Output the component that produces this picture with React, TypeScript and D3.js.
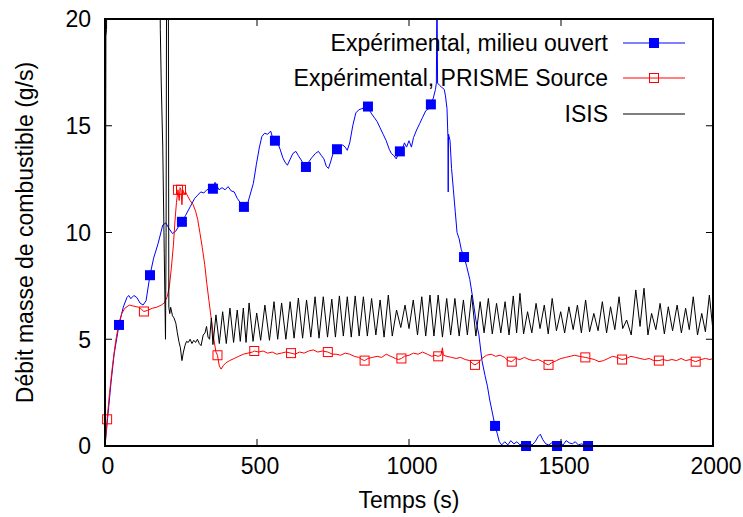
import React, { useEffect, useRef } from 'react';
import * as d3 from 'd3';

// time (s), flow (g/s)
const blueLine: [number, number][] = [
  [0, 0], [10, 1.5], [20, 3.0], [30, 4.3], [46, 5.67], [60, 6.5], [72, 6.95], [78, 7.05], [85, 6.9],
  [95, 7.05], [105, 6.95], [115, 6.7], [125, 6.6], [135, 6.8], [148, 8.0], [160, 8.8], [175, 9.5],
  [190, 10.35], [200, 10.45], [210, 10.2], [222, 9.95], [232, 10.05], [245, 10.35], [253, 10.5],
  [265, 10.8], [280, 11.2], [295, 11.6], [305, 11.75], [315, 11.9], [325, 11.85], [335, 12.0],
  [345, 12.05], [355, 12.1], [362, 12.35], [368, 12.2], [375, 12.0], [385, 12.1], [395, 12.0],
  [405, 12.15], [415, 11.95], [425, 11.9], [435, 11.6], [445, 11.4], [457, 11.2], [468, 11.3],
  [478, 11.8], [488, 12.3], [498, 13.2], [508, 14.0], [516, 14.5], [525, 14.65], [535, 14.6],
  [545, 14.75], [552, 14.4], [559, 14.3], [568, 14.2], [576, 13.9], [585, 13.5], [592, 13.3],
  [600, 13.15], [608, 13.4], [618, 13.7], [628, 13.8], [636, 13.6], [645, 13.4], [653, 13.2],
  [661, 13.07], [670, 13.3], [680, 13.5], [692, 13.7], [702, 13.8], [712, 13.6], [720, 13.45],
  [728, 13.1], [735, 13.0], [742, 13.3], [750, 13.7], [763, 13.9], [772, 14.0], [782, 14.1],
  [790, 14.0], [797, 13.85], [805, 14.2], [815, 15.0], [825, 15.6], [835, 15.75], [845, 15.8],
  [855, 15.85], [865, 15.9], [875, 15.6], [885, 15.4], [895, 15.2], [905, 14.9], [915, 14.6],
  [925, 14.3], [935, 13.9], [942, 13.7], [950, 13.6], [958, 13.45], [964, 13.65], [970, 13.8],
  [978, 13.9], [985, 14.2], [992, 14.0], [1000, 14.3], [1008, 14.0], [1015, 14.45], [1025, 14.8],
  [1035, 15.1], [1045, 15.4], [1055, 15.7], [1065, 15.8], [1072, 16.0], [1080, 16.3], [1087, 16.7],
  [1090, 17.0], [1092, 21.5], [1094, 17.0], [1100, 16.9], [1108, 16.8], [1116, 16.7], [1120, 16.4],
  [1125, 15.8], [1128, 14.5], [1129, 11.9], [1130, 14.6], [1135, 14.3], [1140, 13.0], [1146, 12.0],
  [1152, 11.0], [1158, 10.0], [1165, 9.7], [1172, 9.2], [1181, 8.85], [1190, 8.4], [1200, 7.8],
  [1210, 6.9], [1220, 5.9], [1230, 5.2], [1240, 4.0], [1250, 3.3], [1258, 2.8], [1265, 2.2],
  [1275, 1.5], [1283, 0.94], [1290, 0.6], [1297, 0.2], [1305, 0.05], [1315, 0.2], [1325, 0.05],
  [1335, 0.25], [1345, 0.1], [1355, 0.2], [1365, 0.05], [1375, 0.15], [1385, 0.0], [1395, 0.1],
  [1405, 0.05], [1415, 0.2], [1425, 0.45], [1432, 0.55], [1440, 0.3], [1450, 0.1], [1460, 0.05],
  [1470, 0.15], [1480, 0.05], [1487, 0.0], [1497, 0.1], [1507, 0.05], [1517, 0.25], [1527, 0.15],
  [1537, 0.1], [1547, 0.2], [1557, 0.05], [1567, 0.1], [1580, 0.05], [1589, 0.0], [1600, 0.05],
];
const blueMarks: [number, number][] = [
  [46, 5.67], [148, 8.0], [253, 10.5], [355, 12.05], [457, 11.2], [559, 14.3], [661, 13.07],
  [763, 13.9], [865, 15.9], [970, 13.8], [1072, 16.0], [1181, 8.85], [1283, 0.94], [1385, 0.0],
  [1487, 0.0], [1589, 0.0],
];

const redLine: [number, number][] = [
  [0, 0], [7, 1.25], [15, 2.5], [25, 3.8], [35, 4.9], [45, 5.7], [55, 6.2], [65, 6.45], [80, 6.6],
  [95, 6.55], [110, 6.5], [120, 6.4], [128, 6.3], [140, 6.35], [155, 6.45], [170, 6.5], [185, 6.6],
  [195, 6.7], [205, 7.0], [212, 7.5], [218, 8.3], [225, 9.4], [230, 10.5], [235, 11.4], [240, 12.0],
  [244, 11.5], [247, 12.1], [250, 12.0], [253, 11.3], [256, 12.0], [260, 11.8], [265, 11.9],
  [272, 11.7], [280, 11.5], [290, 11.3], [298, 11.0], [305, 10.6], [312, 10.0], [320, 9.3],
  [328, 8.5], [335, 7.6], [342, 6.8], [350, 5.9], [358, 5.0], [365, 4.4], [370, 4.25], [376, 3.75],
  [382, 3.6], [388, 3.75], [398, 3.9], [410, 4.0], [425, 4.1], [440, 4.2], [455, 4.3], [470, 4.35],
  [485, 4.4], [491, 4.45], [505, 4.4], [520, 4.45], [535, 4.35], [550, 4.4], [565, 4.3], [580, 4.35],
  [595, 4.4], [612, 4.35], [625, 4.3], [640, 4.4], [655, 4.35], [670, 4.45], [685, 4.5], [700, 4.4],
  [715, 4.45], [733, 4.4], [748, 4.3], [760, 4.3], [775, 4.25], [790, 4.35], [805, 4.3], [820, 4.2],
  [835, 4.15], [845, 4.05], [854, 4.0], [865, 4.1], [880, 4.15], [895, 4.2], [910, 4.15], [925, 4.3],
  [940, 4.2], [955, 4.1], [965, 4.05], [975, 4.1], [985, 4.2], [1000, 4.25], [1015, 4.35],
  [1030, 4.3], [1045, 4.4], [1060, 4.3], [1075, 4.2], [1085, 4.25], [1096, 4.2], [1105, 4.25],
  [1110, 4.6], [1113, 4.25], [1125, 4.2], [1140, 4.15], [1155, 4.1], [1170, 4.15], [1185, 4.05],
  [1200, 4.0], [1210, 3.85], [1217, 3.8], [1228, 3.9], [1240, 4.1], [1255, 4.25], [1270, 4.3],
  [1285, 4.2], [1300, 4.25], [1315, 4.15], [1325, 4.0], [1338, 3.95], [1350, 4.1], [1365, 4.05],
  [1380, 4.15], [1395, 4.05], [1410, 4.0], [1425, 4.05], [1440, 3.95], [1450, 3.85], [1459, 3.8],
  [1470, 3.9], [1485, 4.0], [1500, 4.1], [1515, 4.15], [1530, 4.2], [1545, 4.25], [1560, 4.2],
  [1580, 4.15], [1595, 4.1], [1610, 4.05], [1625, 3.95], [1640, 4.0], [1655, 4.1], [1670, 4.2],
  [1685, 4.15], [1701, 4.05], [1715, 4.1], [1730, 4.2], [1745, 4.15], [1760, 4.1], [1775, 4.05],
  [1790, 4.1], [1805, 4.0], [1822, 4.0], [1835, 4.05], [1850, 4.0], [1865, 4.05], [1880, 4.0],
  [1895, 4.1], [1910, 4.0], [1925, 4.05], [1943, 3.95], [1960, 4.05], [1975, 4.1], [1990, 4.05],
  [2000, 4.1],
];
const redMarks: [number, number][] = [
  [7, 1.25], [128, 6.3], [240, 12.0], [250, 12.0], [370, 4.25], [491, 4.45], [612, 4.35],
  [733, 4.4], [854, 4.0], [975, 4.1], [1096, 4.2], [1217, 3.8], [1338, 3.95], [1459, 3.8],
  [1580, 4.15], [1701, 4.05], [1822, 4.0], [1943, 3.95],
];

const isisLine: [number, number][] = [
  [0, 0], [2, 12], [3, 19.2], [5, 19.5], [8, 25], [178, 25], [182, 19.5], [185, 17], [190, 14],
  [195, 9], [199, 5.0], [201, 10], [203, 25], [208, 25], [210, 6.5], [213, 6.2], [216, 6.5],
  [222, 6.1], [227, 6.0], [233, 5.75], [238, 5.3], [243, 4.9], [248, 4.6], [253, 4.0], [258, 4.4],
  [263, 4.7], [268, 4.9], [274, 4.85], [280, 5.0], [286, 4.8], [292, 4.95], [298, 4.85], [304, 5.0],
  [310, 4.8], [316, 4.7], [323, 5.2], [329, 5.3], [334, 5.6], [339, 5.1], [344, 5.0], [350, 6.0],
  [355, 4.75],
  [365, 6.14], [376, 4.8], [387, 6.29], [399, 4.8], [411, 6.46], [423, 4.85], [435, 6.37], [445, 4.9],
  [455, 6.46], [464, 4.85], [474, 6.7], [487, 4.9], [499, 6.23], [512, 4.95], [526, 6.6], [541, 4.95],
  [556, 6.76], [568, 5.0], [581, 6.7], [595, 5.0], [609, 6.76], [622, 5.05], [636, 6.93], [650, 5.05],
  [663, 6.84], [677, 5.1], [691, 6.99], [704, 5.05], [718, 6.99], [732, 5.1], [746, 6.88], [758, 5.1],
  [771, 7.03], [784, 5.15], [797, 6.99], [810, 5.1], [823, 7.03], [836, 5.15], [850, 6.99], [863, 5.15],
  [877, 6.91], [891, 5.2], [905, 6.84], [918, 5.1], [932, 7.07], [945, 5.15], [959, 6.37], [973, 5.55],
  [987, 6.6], [1000, 5.5], [1014, 6.84], [1028, 5.2], [1042, 6.99], [1055, 5.15], [1069, 7.07],
  [1082, 5.15], [1096, 7.07], [1110, 5.1], [1124, 6.91], [1137, 5.2], [1151, 6.91], [1165, 5.15],
  [1179, 6.84], [1192, 5.2], [1206, 7.07], [1220, 5.15], [1234, 6.76], [1247, 5.3], [1261, 6.91],
  [1274, 5.25], [1288, 6.68], [1302, 5.3], [1316, 6.76], [1329, 5.2], [1343, 7.03], [1354, 5.3],
  [1365, 7.15], [1377, 5.25], [1390, 6.29], [1404, 5.3], [1418, 6.68], [1431, 5.5], [1445, 6.6],
  [1458, 5.25], [1471, 6.91], [1485, 5.4], [1499, 6.29], [1512, 5.3], [1526, 6.52], [1540, 5.45],
  [1554, 6.6], [1567, 5.3], [1581, 6.84], [1594, 5.35], [1608, 6.21], [1622, 5.4], [1636, 6.76],
  [1650, 5.3], [1663, 6.52], [1677, 5.45], [1691, 6.99], [1703, 5.5], [1716, 5.9], [1731, 5.2],
  [1746, 7.31], [1760, 5.6], [1773, 7.39], [1786, 5.2], [1798, 6.21], [1812, 5.45], [1826, 6.68],
  [1840, 5.25], [1853, 6.52], [1867, 5.4], [1882, 6.6], [1896, 5.3], [1910, 6.45], [1922, 5.45],
  [1935, 6.99], [1949, 5.2], [1963, 6.21], [1975, 5.35], [1988, 7.07], [2000, 5.4],
];

const xTicks = [0, 500, 1000, 1500, 2000];
const yTicks = [0, 5, 10, 15, 20];
const seriesNames = ['Expérimental, milieu ouvert', 'Expérimental, PRISME Source', 'ISIS'];

const W = 743;
const H = 517;
const FONT = '"Liberation Sans", Arial, Helvetica, sans-serif';

const App = () => {
  const svgRef = useRef<SVGSVGElement>(null);

  useEffect(() => {
    const svg = d3.select(svgRef.current);
    svg.selectAll('*').remove();

    const left = 105, right = 713, top = 19, bottom = 446;
    const x = d3.scaleLinear().domain([0, 2000]).range([left, right]);
    const y = d3.scaleLinear().domain([0, 20]).range([bottom, top]);

    svg.append('defs').append('clipPath').attr('id', 'plot-clip')
      .append('rect').attr('x', left).attr('y', top)
      .attr('width', right - left).attr('height', bottom - top);

    const line = d3.line<[number, number]>().x(d => x(d[0])).y(d => y(d[1]));
    const plot = svg.append('g').attr('clip-path', 'url(#plot-clip)');

    plot.append('path').attr('d', line(blueLine)).attr('fill', 'none')
      .attr('stroke', '#0000ff').attr('stroke-width', 1);
    plot.append('path').attr('d', line(redLine)).attr('fill', 'none')
      .attr('stroke', '#ff0000').attr('stroke-width', 1);
    plot.append('path').attr('d', line(isisLine)).attr('fill', 'none')
      .attr('stroke', '#000000').attr('stroke-width', 1);

    const ms = 10;
    svg.append('g').selectAll('rect').data(blueMarks).enter().append('rect')
      .attr('x', d => x(d[0]) - ms / 2).attr('y', d => y(d[1]) - ms / 2)
      .attr('width', ms).attr('height', ms).attr('fill', '#0000ff');
    svg.append('g').selectAll('rect').data(redMarks).enter().append('rect')
      .attr('x', d => x(d[0]) - ms / 2 + 0.5).attr('y', d => y(d[1]) - ms / 2 + 0.5)
      .attr('width', ms - 1).attr('height', ms - 1).attr('fill', 'none')
      .attr('stroke', '#ff0000').attr('stroke-width', 1);

    // ticks (inside, mirrored)
    const tk = 7;
    const axes = svg.append('g').attr('stroke', '#000').attr('stroke-width', 1);
    xTicks.forEach(t => {
      axes.append('line').attr('x1', x(t)).attr('x2', x(t)).attr('y1', bottom).attr('y2', bottom - tk);
      axes.append('line').attr('x1', x(t)).attr('x2', x(t)).attr('y1', top).attr('y2', top + tk);
    });
    yTicks.forEach(v => {
      axes.append('line').attr('x1', left).attr('x2', left + tk).attr('y1', y(v)).attr('y2', y(v));
      axes.append('line').attr('x1', right).attr('x2', right - tk).attr('y1', y(v)).attr('y2', y(v));
    });
    svg.append('rect').attr('x', left).attr('y', top).attr('width', right - left)
      .attr('height', bottom - top).attr('fill', 'none').attr('stroke', '#000').attr('stroke-width', 2);

    const txt = svg.append('g').attr('font-family', FONT).attr('font-size', 23).attr('fill', '#000');
    xTicks.forEach(t => {
      txt.append('text').attr('x', x(t) + 3).attr('y', 474).attr('text-anchor', 'middle').text(t);
    });
    yTicks.forEach(v => {
      txt.append('text').attr('x', 91).attr('y', y(v)).attr('dy', '0.36em')
        .attr('text-anchor', 'end').text(v);
    });
    txt.append('text').attr('x', 409).attr('y', 508).attr('text-anchor', 'middle').text('Temps (s)');
    txt.append('text').attr('transform', `translate(33, ${(top + bottom) / 2}) rotate(-90)`)
      .attr('text-anchor', 'middle').text('Débit masse de combustible (g/s)');

    // legend
    const legY = [43, 78, 114];
    const legColors = ['#0000ff', '#ff0000', '#000000'];
    seriesNames.forEach((name, i) => {
      txt.append('text').attr('x', 608).attr('y', legY[i]).attr('dy', '0.36em')
        .attr('text-anchor', 'end').text(name);
      svg.append('line').attr('x1', 623).attr('x2', 685).attr('y1', legY[i]).attr('y2', legY[i])
        .attr('stroke', legColors[i]).attr('stroke-width', 1);
    });
    svg.append('rect').attr('x', 654 - ms / 2).attr('y', legY[0] - ms / 2)
      .attr('width', ms).attr('height', ms).attr('fill', '#0000ff');
    svg.append('rect').attr('x', 654 - ms / 2 + 0.5).attr('y', legY[1] - ms / 2 + 0.5)
      .attr('width', ms - 1).attr('height', ms - 1).attr('fill', 'none').attr('stroke', '#ff0000');
  }, []);

  return (
    <div style={{ position: 'absolute', left: 0, top: 0, width: W, height: H, background: '#fff' }}>
      <svg ref={svgRef} width={W} height={H} />
    </div>
  );
};

export default App;
